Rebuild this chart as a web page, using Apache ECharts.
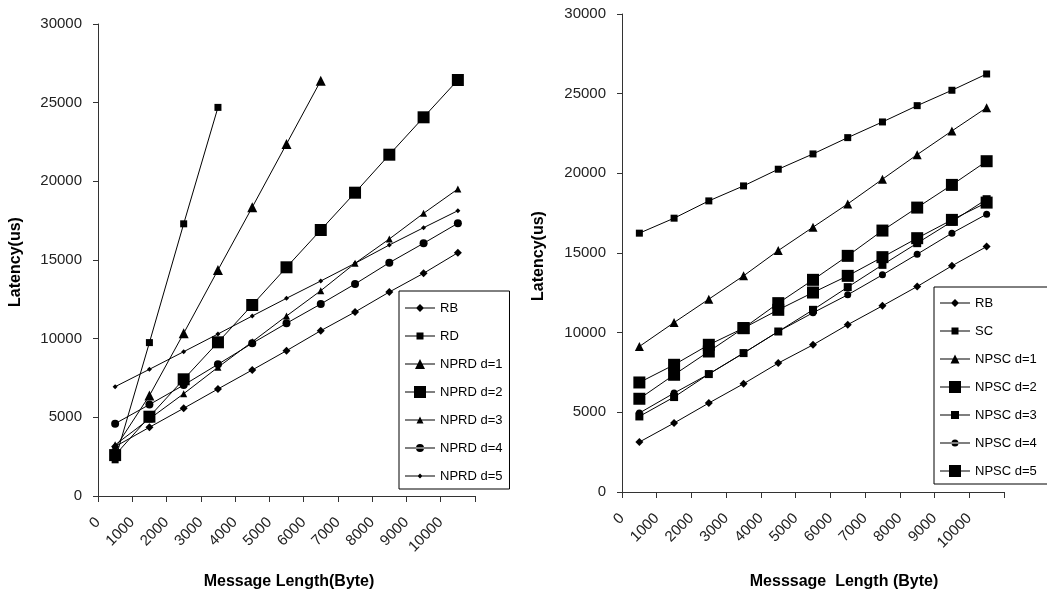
<!DOCTYPE html>
<html>
<head>
<meta charset="utf-8">
<script src="https://cdn.jsdelivr.net/npm/echarts@6/dist/echarts.min.js"></script>
<style>
  html, body { margin: 0; padding: 0; background: #fff; }
  #chart { width: 1047px; height: 598px; }
</style>
</head>
<body>
<div id="chart"></div>
<script>
// message lengths (bytes) – points sit between the axis ticks
const msgLen = [500, 1500, 2500, 3500, 4500, 5500, 6500, 7500, 8500, 9500, 10500];
const xTickLabels = ["0", "1000", "2000", "3000", "4000", "5000", "6000", "7000", "8000", "9000", "10000"];

// left panel: RD / NPRD
const leftRB    = [3140, 4366, 5574, 6801, 8009, 9235, 10507, 11695, 12966, 14155, 15464];
const leftRD    = [2300, 9750, 17300, 24700];
const nprd1     = [3050, 6380, 10340, 14365, 18350, 22373, 26398];
const nprd2     = [2600, 5040, 7417, 9769, 12140, 14536, 16907, 19278, 21693, 24070, 26441];
const nprd3     = [3250, 4900, 6500, 8180, 9800, 11441, 13049, 14790, 16335, 17968, 19513];
const nprd4     = [4600, 5810, 7050, 8371, 9706, 10977, 12204, 13475, 14829, 16062, 17333];
const nprd5     = [6948, 8052, 9172, 10297, 11441, 12566, 13665, 14790, 15954, 17054, 18134];

// right panel: SC / NPSC
const rightRB   = [3136, 4328, 5582, 6793, 8091, 9235, 10500, 11685, 12896, 14194, 15404];
const rightSC   = [16245, 17185, 18270, 19211, 20258, 21218, 22241, 23225, 24248, 25214, 26236];
const npsc1     = [9133, 10637, 12104, 13566, 15153, 16621, 18082, 19631, 21174, 22661, 24122];
const npsc2     = [6874, 7984, 9239, 10286, 11853, 13316, 14821, 16408, 17850, 19274, 20761];
const npsc3     = [4742, 5958, 7401, 8718, 10073, 11434, 12858, 14256, 15617, 16972, 18377];
const npsc4     = [4955, 6209, 7401, 8718, 10073, 11250, 12375, 13629, 14927, 16245, 17436];
const npsc5     = [5852, 7357, 8819, 10286, 11434, 12519, 13566, 14739, 15930, 17079, 18163];

const leftNames  = ["RB", "RD", "NPRD d=1", "NPRD d=2", "NPRD d=3", "NPRD d=4", "NPRD d=5"];
const rightNames = ["RB", "SC", "NPSC d=1", "NPSC d=2", "NPSC d=3", "NPSC d=4", "NPSC d=5"];

const FONT = "'Liberation Sans', Arial, sans-serif";
const ICON_W = 30, ICON_H = 14;

const chart = echarts.init(document.getElementById("chart"), null, { renderer: "canvas" });

// legend icon: thin line across the box with a marker of the series' own size
function legendIcon(symbol, s) {
  const cx = ICON_W / 2, cy = ICON_H / 2, h = s / 2;
  let p = `M0 0 M${ICON_W} ${ICON_H} M0 ${cy - 0.5} L${ICON_W} ${cy - 0.5} L${ICON_W} ${cy + 0.5} L0 ${cy + 0.5} Z `;
  if (symbol === "rect") {
    p += `M${cx - h} ${cy - h} L${cx + h} ${cy - h} L${cx + h} ${cy + h} L${cx - h} ${cy + h} Z`;
  } else if (symbol === "diamond") {
    p += `M${cx} ${cy - h} L${cx + h} ${cy} L${cx} ${cy + h} L${cx - h} ${cy} Z`;
  } else if (symbol === "triangle") {
    p += `M${cx} ${cy - h} L${cx + h} ${cy + h} L${cx - h} ${cy + h} Z`;
  } else {
    p += `M${cx - h} ${cy} A${h} ${h} 0 1 0 ${cx + h} ${cy} A${h} ${h} 0 1 0 ${cx - h} ${cy} Z`;
  }
  return "path://" + p;
}

const mk = (name, vals, symbol, size, idx) => ({
  name,
  type: "line",
  xAxisIndex: idx,
  yAxisIndex: idx,
  data: vals.map((v, i) => [msgLen[i], v]),
  symbol,
  symbolSize: size,
  showAllSymbol: true,
  lineStyle: { color: "#000", width: 1 },
  itemStyle: { color: "#000", borderWidth: 0 },
  emphasis: { disabled: true },
});

const xAxisOf = (idx) => ({
  type: "value",
  gridIndex: idx,
  min: 0,
  max: 11000,
  interval: 1000,
  splitLine: { show: false },
  axisLine: { show: true, lineStyle: { color: "#333", width: 1 } },
  axisTick: { show: true, length: 6, lineStyle: { color: "#333" } },
  axisLabel: {
    rotate: 45,
    margin: 24,
    color: "#222",
    fontSize: 15,
    fontFamily: FONT,
    showMaxLabel: true,
    formatter: (v) => xTickLabels[Math.round(v / 1000)] ?? "",
  },
});

const yAxisOf = (idx) => ({
  type: "value",
  gridIndex: idx,
  min: 0,
  max: 30000,
  interval: 5000,
  splitLine: { show: false },
  axisLine: { show: true, lineStyle: { color: "#333", width: 1 } },
  axisTick: { show: true, length: 5, lineStyle: { color: "#333" } },
  axisLabel: { margin: 16, color: "#222", fontSize: 15, fontFamily: FONT, formatter: (v) => String(v) },
});

const legendOf = (names, marks, left, top, pad) => ({
  orient: "vertical",
  left,
  top,
  data: names.map((n, i) => ({ name: n, icon: legendIcon(marks[i][0], marks[i][1]) })),
  backgroundColor: "#fff",
  borderColor: "#000",
  borderWidth: 1,
  padding: pad,
  itemWidth: ICON_W,
  itemHeight: ICON_H,
  itemGap: 14,
  selectedMode: false,
  itemStyle: { color: "#000", borderWidth: 0 },
  textStyle: { color: "#000", fontSize: 13, fontFamily: FONT },
});

const titleText = (text, x, y, rot) => ({
  type: "text",
  x,
  y,
  rotation: rot,
  style: {
    text,
    align: "center",
    verticalAlign: "middle",
    fill: "#000",
    font: "bold 16px " + FONT,
  },
});

const leftMarks = [["diamond", 8], ["rect", 7], ["triangle", 10], ["rect", 12], ["triangle", 7], ["circle", 8], ["diamond", 5]];
const rightMarks = [["diamond", 8], ["rect", 7], ["triangle", 9], ["rect", 12], ["rect", 8], ["circle", 7], ["rect", 12]];

const leftData = [leftRB, leftRD, nprd1, nprd2, nprd3, nprd4, nprd5];
const rightData = [rightRB, rightSC, npsc1, npsc2, npsc3, npsc4, npsc5];

chart.setOption({
  animation: false,
  grid: [
    { left: 98, top: 24, width: 377, height: 472 },
    { left: 622, top: 14, width: 382, height: 478 },
  ],
  xAxis: [xAxisOf(0), xAxisOf(1)],
  yAxis: [yAxisOf(0), yAxisOf(1)],
  legend: [
    legendOf(leftNames, leftMarks, 399, 291, [10, 7, 6, 6]),
    legendOf(rightNames, rightMarks, 934, 287, [9, 20, 6, 6]),
  ],
  graphic: [
    titleText("Latency(us)", 16, 262, Math.PI / 2),
    titleText("Message Length(Byte)", 289, 582, 0),
    titleText("Latency(us)", 539, 256, Math.PI / 2),
    titleText("Messsage  Length (Byte)", 844, 582, 0),
  ],
  series: [
    ...leftNames.map((n, i) => mk(n, leftData[i], leftMarks[i][0], leftMarks[i][1], 0)),
    ...rightNames.map((n, i) => mk(n, rightData[i], rightMarks[i][0], rightMarks[i][1], 1)),
  ],
});
</script>
</body>
</html>
